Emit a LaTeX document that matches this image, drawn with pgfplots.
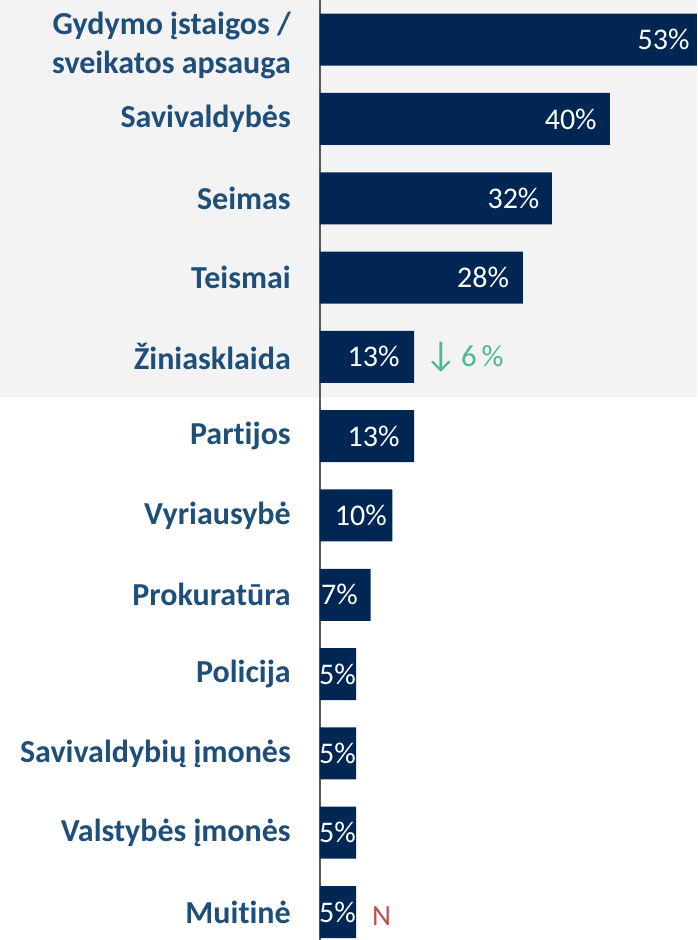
\documentclass[border=0pt]{standalone}
\usepackage{pgfplots}
\pgfplotsset{compat=1.18}
\usepackage{fontspec}
\setmainfont{Carlito}[Ligatures=NoCommon]
\definecolor{barc}{HTML}{002754}
\definecolor{lab}{HTML}{1F4E79}
\definecolor{grn}{HTML}{4DB88F}
\definecolor{rd}{HTML}{C0504D}
\definecolor{bg}{HTML}{F3F3F3}
\begin{document}
\begin{tikzpicture}
\useasboundingbox (0,0) rectangle (522.75pt,705pt);
\fill[bg] (0,407.25pt) rectangle (522.75pt,705pt);
\begin{axis}[
  at={(240pt,0pt)}, anchor=south west,
  scale only axis, width=282.75pt, height=705pt,
  xmin=0, xmax=52, ymin=-0.5, ymax=11.353, y dir=reverse,
  axis x line=none, axis y line*=left,
  axis line style={color=black!65, line width=1.1pt},
  ytick={1,...,11},
  yticklabels={Savivaldybės,Seimas,Teismai,Žiniasklaida,Partijos,Vyriausybė,Prokuratūra,Policija,Savivaldybių įmonės,Valstybės įmonės,Muitinė},
  extra y ticks={0},
  extra y tick labels={{Gydymo įstaigos /\\sveikatos apsauga}},
  extra y tick style={yticklabel style={yshift=-4.5pt}},
  ytick style={draw=none},
  yticklabel style={font=\bfseries\fontsize{24}{29.5}\selectfont, text=lab, align=right, inner sep=0pt, xshift=-21.75pt},
]
\addplot[xbar, bar width=39pt, fill=barc, draw=none] coordinates {
(53,0) (40,1) (32,2) (28,3) (13,4) (13,5) (10,6) (7,7) (5,8) (5,9) (5,10) (5,11)};
\addplot[only marks, mark=none, nodes near coords, point meta=explicit symbolic,
  nodes near coords style={anchor=east, text=white, font=\fontsize{22.5}{24}\selectfont, inner sep=0pt}] coordinates {
(51.0,0) [53\%]
(38.2,1) [40\%]
(30.3,2) [32\%]
(26.1,3) [28\%]
(11.0,4) [13\%]
(11.0,5) [13\%]
(9.24,6) [10\%]
(5.24,7) [7\%]
(4.97,8) [5\%]
(4.97,9) [5\%]
(4.97,10) [5\%]
(4.97,11) [5\%]
};
\addplot[only marks, mark=none, nodes near coords, point meta=explicit symbolic,
  nodes near coords style={anchor=west, text=grn, font=\fontsize{23}{24}\selectfont, inner sep=0pt}] coordinates {
(14.4,4) [{\fontsize{27}{27}\selectfont ↓}\hspace{-1pt}\,6\,\%]
};
\addplot[only marks, mark=none, nodes near coords, point meta=explicit symbolic,
  nodes near coords style={anchor=west, text=rd, font=\fontsize{22}{24}\selectfont, inner sep=0pt, yshift=-3pt}] coordinates {
(7.17,11) [N]
};
\end{axis}
\end{tikzpicture}
\end{document}
